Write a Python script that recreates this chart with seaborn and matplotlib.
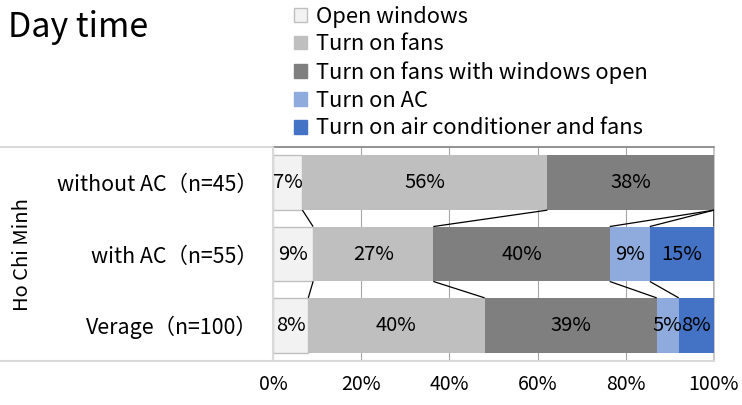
import numpy as np
import pandas as pd
import matplotlib
matplotlib.use("Agg")
import matplotlib.pyplot as plt
import seaborn as sns
from matplotlib.patches import Patch

# Share of households (%) choosing each cooling action during the day
groups = ["without AC（n=45）", "with AC（n=55）", "Verage（n=100）"]
actions = ["Open windows", "Turn on fans", "Turn on fans with windows open",
           "Turn on AC", "Turn on air conditioner and fans"]
open_windows = [6.67, 9.09, 8.0]
fans = [55.56, 27.27, 40.0]
fans_windows = [37.78, 40.0, 39.0]
ac_only = [0.0, 9.09, 5.0]
ac_and_fans = [0.0, 14.55, 8.0]
tick_values = [0, 20, 40, 60, 80, 100]
tick_labels = ["0%", "20%", "40%", "60%", "80%", "100%"]
colors = ["#F2F2F2", "#BFBFBF", "#7F7F7F", "#8FAADC", "#4472C4"]

sns.set_theme(style="white")
plt.rcParams["font.family"] = ["Noto Sans CJK JP", "DejaVu Sans"]
plt.rcParams["text.color"] = "black"

shares = pd.DataFrame(
    dict(zip(actions, [open_windows, fans, fans_windows, ac_only, ac_and_fans])),
    index=groups,
)
ends = shares.cumsum(axis=1)
starts = ends - shares

W, H = 742, 405
fig = plt.figure(figsize=(W / 100, H / 100), dpi=100)
x0, x1, ytop, ybot = 273, 714, 147, 361
ax = fig.add_axes([x0 / W, 1 - ybot / H, (x1 - x0) / W, (ybot - ytop) / H])

bar_h = 0.77
for k, action in enumerate(actions):
    df = pd.DataFrame({"group": groups, "share": shares[action].values})
    edge = dict(edgecolor="#BFBFBF", linewidth=1.0) if k == 0 else dict(linewidth=0)
    sns.barplot(data=df, x="share", y="group", orient="h", order=groups,
                color=colors[k], saturation=1, width=bar_h, errorbar=None,
                left=starts[action].values, ax=ax, zorder=2, **edge)

# value labels centred in each segment
for i, g in enumerate(groups):
    for action in actions:
        v = shares.loc[g, action]
        if v > 0:
            ax.text(starts.loc[g, action] + v / 2, i, f"{v:.0f}%",
                    ha="center", va="center", fontsize=14.5, color="black", zorder=4)

# series lines joining the segment boundaries of neighbouring bars
for action in actions:
    for i in range(len(groups) - 1):
        ax.plot([ends.iloc[i][action], ends.iloc[i + 1][action]],
                [i + bar_h / 2, i + 1 - bar_h / 2],
                color="black", lw=0.9, zorder=3, solid_capstyle="butt")

ax.set_xlim(0, 100)
ax.set_ylim(2.5, -0.5)
ax.set_xticks(tick_values)
ax.set_xticklabels(tick_labels)
ax.set_xlabel("")
ax.set_ylabel("")
ax.tick_params(axis="x", length=0, pad=9, labelsize=14, colors="black")
ax.tick_params(axis="y", length=0, pad=11, labelsize=15.4, colors="black")
ax.set_axisbelow(True)
ax.xaxis.grid(True, color="#A6A6A6", lw=0.8)
ax.yaxis.grid(False)
for s in ax.spines.values():
    s.set_visible(False)

# frame lines of the category table
lx = -x0 / (x1 - x0)
ax.plot([lx, 0], [1, 1], transform=ax.transAxes, clip_on=False, color="#D9D9D9", lw=1.4, zorder=5)
ax.plot([0, 1], [1, 1], transform=ax.transAxes, clip_on=False, color="#7F7F7F", lw=1.2, zorder=5)
ax.plot([lx, 1], [0, 0], transform=ax.transAxes, clip_on=False, color="#D9D9D9", lw=1.5, zorder=5)
ax.plot([0, 0], [0, 1], transform=ax.transAxes, clip_on=False, color="#D9D9D9", lw=1.5, zorder=5)
ax.plot([1, 1], [0, 1], transform=ax.transAxes, clip_on=False, color="#BFBFBF", lw=1.2, zorder=1)

fig.text(23 / W, 1 - 255 / H, "Ho Chi Minh", rotation=90, ha="center", va="center",
         fontsize=14.5, color="black")
fig.text(8 / W, 1 - 37 / H, "Day time", ha="left", va="baseline", fontsize=24.5, color="black")

handles = [Patch(facecolor=c, edgecolor=("#BFBFBF" if k == 0 else c), linewidth=1.0)
           for k, c in enumerate(colors)]
fig.legend(handles, actions, loc="upper left", bbox_to_anchor=(294 / W, 1 - 5.5 / H),
           frameon=False, fontsize=15.8, handlelength=0.59, handleheight=0.59,
           handletextpad=0.41, labelspacing=0.265, borderpad=0, borderaxespad=0)

fig.savefig("out.png", dpi=100)
